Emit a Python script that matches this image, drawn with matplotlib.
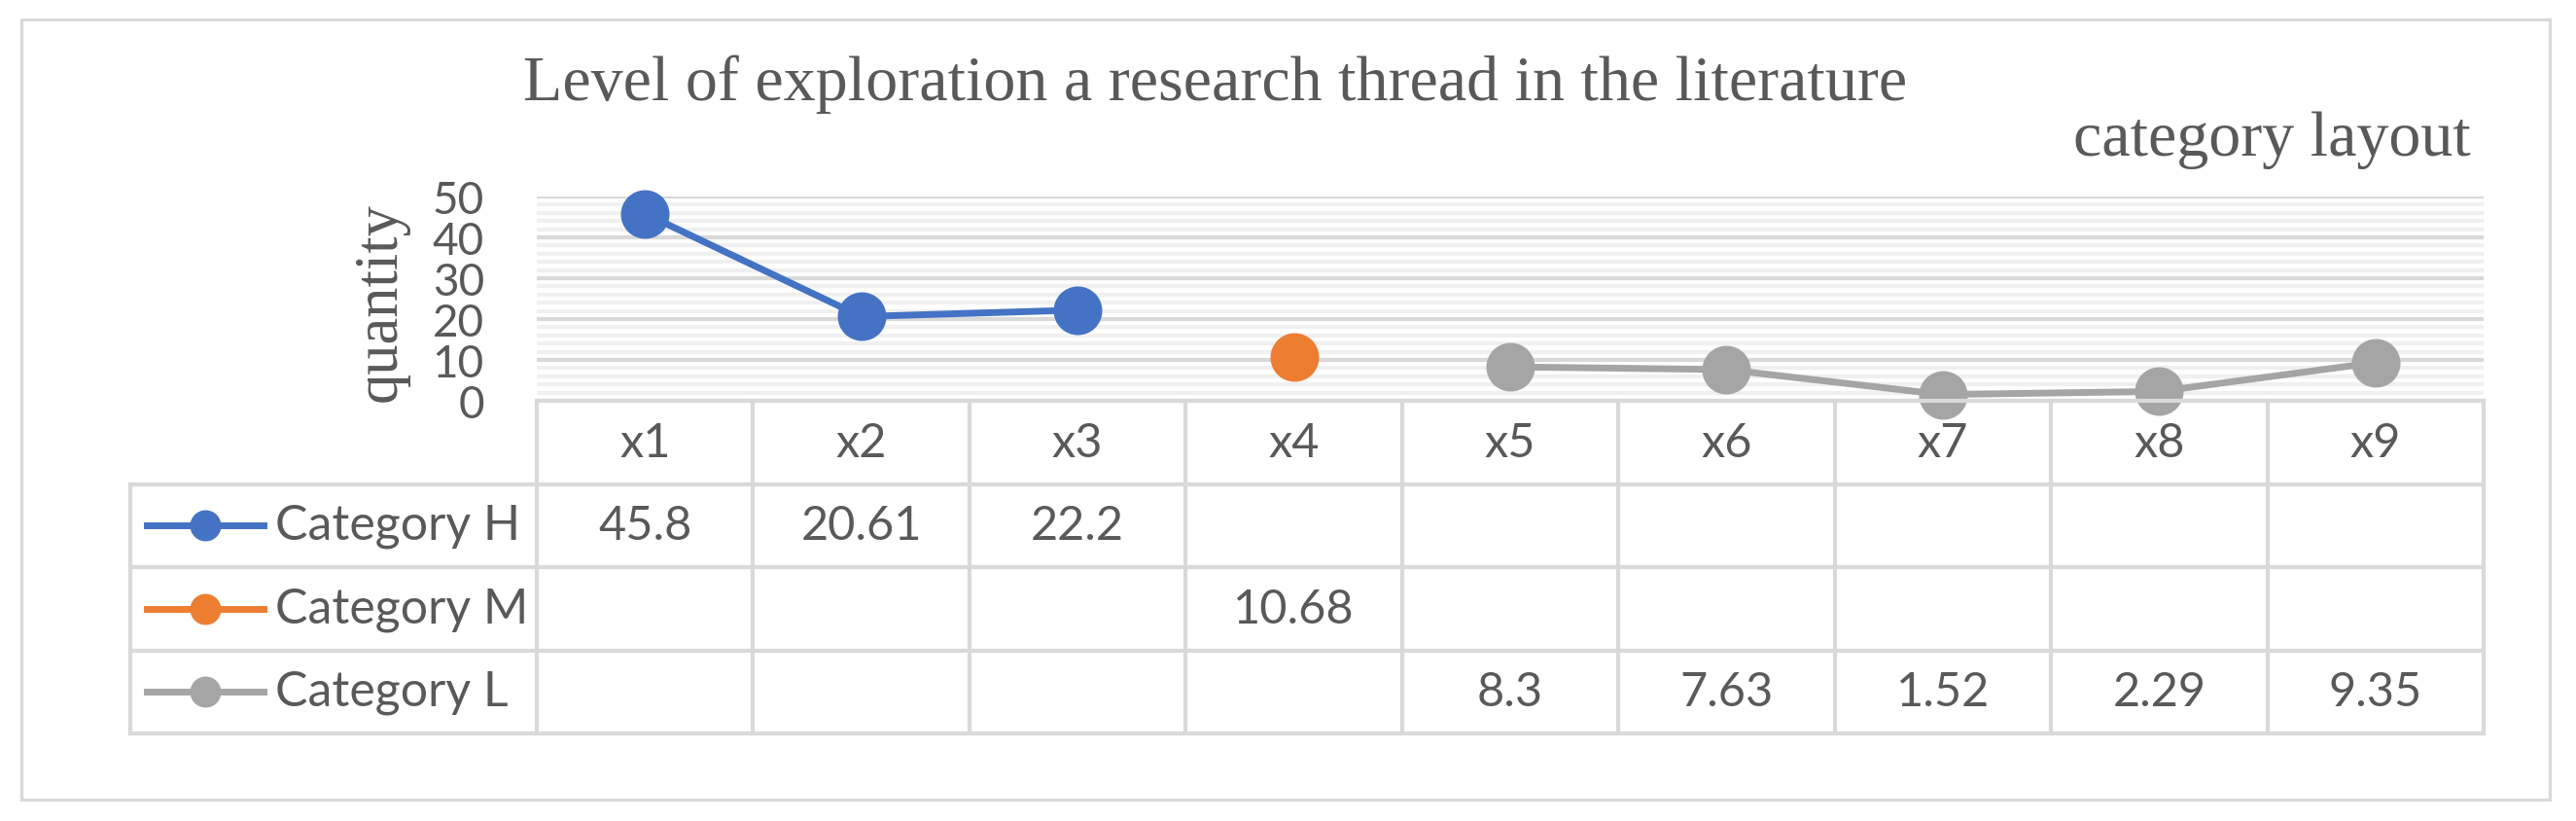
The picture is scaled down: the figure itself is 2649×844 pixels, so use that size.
"""
Level of exploration of research threads, line chart with data table
"""
import numpy as np
import matplotlib
matplotlib.use("Agg")
import matplotlib.pyplot as plt
from matplotlib.patches import Rectangle
from matplotlib.ticker import MultipleLocator

nan = np.nan
categories = ['x1', 'x2', 'x3', 'x4', 'x5', 'x6', 'x7', 'x8', 'x9']
series_names = ['Category H', 'Category M', 'Category L']
values_h = [45.8, 20.61, 22.2, nan, nan, nan, nan, nan, nan]
values_m = [nan, nan, nan, 10.68, nan, nan, nan, nan, nan]
values_l = [nan, nan, nan, nan, 8.3, 7.63, 1.52, 2.29, 9.35]
colors = ['#4472C4', '#ED7D31', '#A5A5A5']

W, H = 2649, 845
TXT = '#595959'
LINE = '#D9D9D9'
SERIF = 'Liberation Serif'
SANS = 'Lato'


def fx(px):
    return px / W


def fy(py):
    return 1 - py / H


fig = plt.figure(figsize=(W / 100, H / 100), dpi=100)

# outer chart border
fig.patches.append(Rectangle((fx(22), fy(823)), fx(2622) - fx(22), fy(21) - fy(823),
                             transform=fig.transFigure, fill=False,
                             edgecolor=LINE, linewidth=2.2))

fig.text(fx(538), fy(103), 'Level of exploration a research thread in the literature',
         family=SERIF, fontsize=47.5, color=TXT, ha='left', va='baseline')
fig.text(fx(2541), fy(160), 'category layout',
         family=SERIF, fontsize=47.5, color=TXT, ha='right', va='baseline')
fig.text(fx(392), fy(311), 'quantity', family=SERIF, fontsize=45, color=TXT,
         rotation=90, ha='center', va='center')

# plot area
ax = fig.add_axes([fx(552), fy(413), fx(2554) - fx(552), fy(203) - fy(413)])
x = np.arange(len(categories))
ax.set_xlim(-0.5, len(categories) - 0.5)
ax.set_ylim(0, 50)
ax.yaxis.set_major_locator(MultipleLocator(10))
ax.yaxis.set_minor_locator(MultipleLocator(2))
ax.grid(which='minor', axis='y', color='#F0F0F0', linewidth=3, zorder=0)
ax.grid(which='major', axis='y', color=LINE, linewidth=3, zorder=0)
ax.set_axisbelow(True)
for s in ax.spines.values():
    s.set_visible(False)
ax.set_xticks([])
ax.tick_params(axis='y', which='both', length=0, pad=39, labelsize=33, labelcolor=TXT)
for lab in ax.get_yticklabels():
    lab.set_family(SANS)

all_values = [values_h, values_m, values_l]
for vals, c in zip(all_values, colors):
    ax.plot(x, vals, color=c, linewidth=5, marker='o', markersize=35,
            clip_on=False, zorder=3)

# data table underneath
tax = fig.add_axes([fx(552), fy(755), fx(2554) - fx(552), fy(413) - fy(755)])
tax.set_xlim(-0.5, len(categories) - 0.5)
tax.set_ylim(4, 0)
tax.axis('off')
left = -0.5 - (552 - 134) / 222.44
right = len(categories) - 0.5
lkw = dict(color=LINE, linewidth=3, clip_on=False, zorder=1)
tax.plot([-0.5, right], [0, 0], **lkw)
for r in range(1, 5):
    tax.plot([left, right], [r, r], **lkw)
tax.plot([left, left], [1, 4], **lkw)
for k in range(len(categories) + 1):
    tax.plot([k - 0.5, k - 0.5], [0, 4], **lkw)

for i, cat in enumerate(categories):
    tax.text(i, 0.5, cat, ha='center', va='center', family=SANS, fontsize=35, color=TXT)

for r, (name, vals, c) in enumerate(zip(series_names, all_values, colors)):
    yc = r + 1.5
    x0 = -0.5 + (151 - 552) / 222.44
    x1 = -0.5 + (271 - 552) / 222.44
    tax.plot([x0, x1], [yc, yc], color=c, linewidth=5, clip_on=False)
    tax.plot([(x0 + x1) / 2], [yc], color=c, marker='o', markersize=22, clip_on=False)
    tax.text(-0.5 + (283 - 552) / 222.44, yc, name, ha='left', va='center',
             family=SANS, fontsize=36, color=TXT)
    for i, v in enumerate(vals):
        if not np.isnan(v):
            tax.text(i, yc, '{:g}'.format(v), ha='center', va='center',
                     family=SANS, fontsize=35, color=TXT)

fig.savefig('out.png', dpi=100)
